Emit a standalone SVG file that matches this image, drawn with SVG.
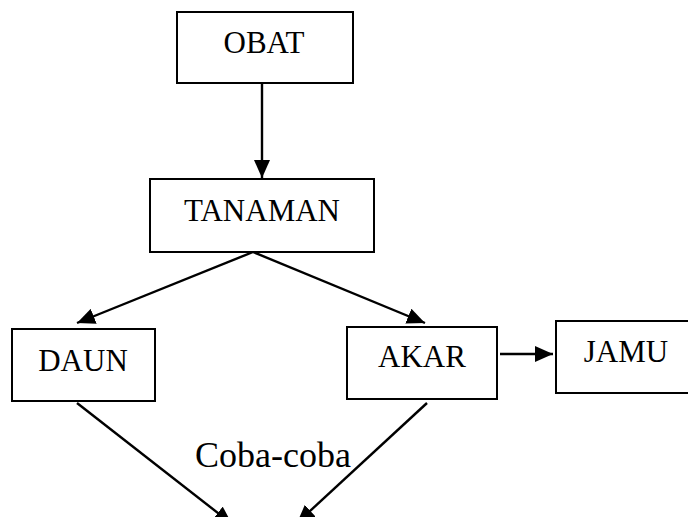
<svg xmlns="http://www.w3.org/2000/svg" width="688" height="517" viewBox="0 0 688 517">
  <style>
    .box { fill: #ffffff; stroke: #000000; stroke-width: 2; }
    .lbl { font-family: "Liberation Serif", "Times New Roman", serif; font-size: 31px; fill: #000000; text-anchor: middle; }
    .edge { stroke: #000000; stroke-width: 2.4; fill: none; marker-end: url(#head); }
  </style>
  <defs>
    <marker id="head" markerUnits="userSpaceOnUse" markerWidth="18" markerHeight="16" refX="18" refY="8" orient="auto">
      <path d="M0,0 L18,8 L0,16 z" fill="#000000"/>
    </marker>
  </defs>
  <rect width="688" height="517" fill="#ffffff"/>

  <g id="connectors">
    <line class="edge" x1="262" y1="83" x2="262" y2="178"/>
    <line class="edge" x1="253" y1="252" x2="77" y2="323"/>
    <line class="edge" x1="253" y1="252" x2="425" y2="323"/>
    <line class="edge" x1="500" y1="354" x2="553" y2="354"/>
    <line class="edge" x1="77" y1="403" x2="232" y2="524"/>
    <line class="edge" x1="427" y1="403" x2="297" y2="523"/>
  </g>

  <g id="obat">
    <rect class="box" x="177" y="12" width="176" height="71"/>
    <text class="lbl" x="264" y="53">OBAT</text>
  </g>
  <g id="tanaman">
    <rect class="box" x="150" y="179" width="224" height="73"/>
    <text class="lbl" x="262" y="221">TANAMAN</text>
  </g>
  <g id="daun">
    <rect class="box" x="12" y="329" width="143" height="72"/>
    <text class="lbl" x="83" y="371">DAUN</text>
  </g>
  <g id="akar">
    <rect class="box" x="347" y="327" width="150" height="72"/>
    <text class="lbl" x="422" y="367">AKAR</text>
  </g>
  <g id="jamu">
    <rect class="box" x="556" y="321" width="140" height="72"/>
    <text class="lbl" x="626" y="362">JAMU</text>
  </g>
  <g id="coba-coba">
    <text class="lbl" x="273" y="467" style="font-size:36px">Coba-coba</text>
  </g>
</svg>
